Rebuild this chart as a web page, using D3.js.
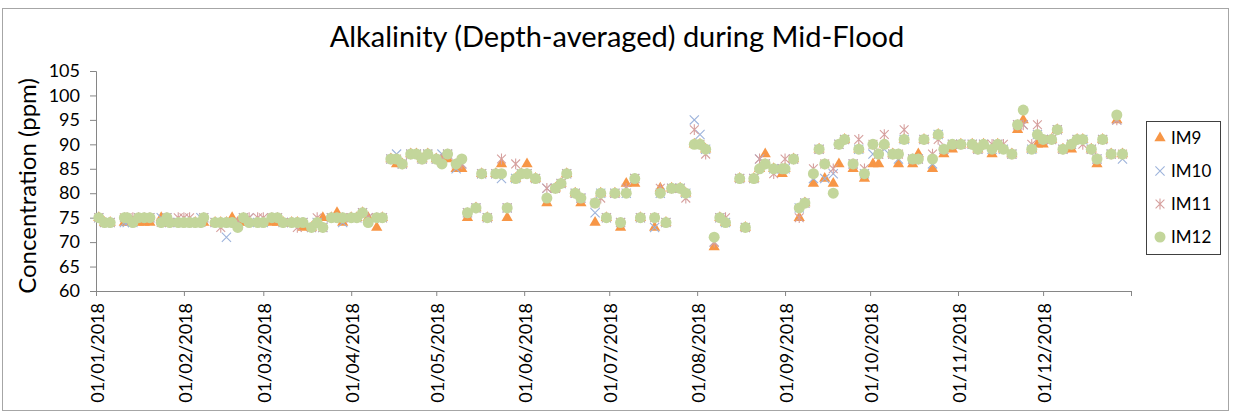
<!DOCTYPE html>
<html>
<head>
<meta charset="utf-8">
<script src="https://cdn.jsdelivr.net/npm/d3@7"></script>
<style>
  html, body { margin: 0; padding: 0; background: #fff; }
  svg { display: block; font-family: Lato, "Open Sans", sans-serif; }
</style>
</head>
<body>
<svg id="chart" width="1235" height="413"></svg>
<script>
// Sampling dates (2018)
const dates = [
  "2018-01-02","2018-01-04","2018-01-06","2018-01-11","2018-01-12","2018-01-14","2018-01-16","2018-01-18","2018-01-20","2018-01-24",
  "2018-01-26","2018-01-27","2018-01-30","2018-02-01","2018-02-03","2018-02-05","2018-02-07","2018-02-08","2018-02-12","2018-02-14",
  "2018-02-16","2018-02-18","2018-02-20","2018-02-22","2018-02-24","2018-02-27","2018-03-01","2018-03-04","2018-03-06","2018-03-08",
  "2018-03-11","2018-03-13","2018-03-15","2018-03-18","2018-03-20","2018-03-22","2018-03-25","2018-03-27","2018-03-29","2018-04-01",
  "2018-04-03","2018-04-05","2018-04-07","2018-04-10","2018-04-12","2018-04-15","2018-04-17","2018-04-19","2018-04-22","2018-04-24",
  "2018-04-26","2018-04-28","2018-05-01","2018-05-03","2018-05-05","2018-05-08","2018-05-10","2018-05-12","2018-05-15","2018-05-17",
  "2018-05-19","2018-05-22","2018-05-24","2018-05-26","2018-05-29","2018-05-31","2018-06-02","2018-06-05","2018-06-09","2018-06-12",
  "2018-06-14","2018-06-16","2018-06-19","2018-06-21","2018-06-26","2018-06-28","2018-06-30","2018-07-03","2018-07-05","2018-07-07",
  "2018-07-10","2018-07-12","2018-07-17","2018-07-19","2018-07-21","2018-07-23","2018-07-26","2018-07-28","2018-07-31","2018-08-02",
  "2018-08-04","2018-08-07","2018-08-09","2018-08-11","2018-08-16","2018-08-18","2018-08-21","2018-08-23","2018-08-25","2018-08-28",
  "2018-08-31","2018-09-01","2018-09-04","2018-09-06","2018-09-08","2018-09-11","2018-09-13","2018-09-15","2018-09-18","2018-09-20",
  "2018-09-22","2018-09-25","2018-09-27","2018-09-29","2018-10-02","2018-10-04","2018-10-06","2018-10-09","2018-10-11","2018-10-13",
  "2018-10-16","2018-10-18","2018-10-20","2018-10-23","2018-10-25","2018-10-27","2018-10-30","2018-11-02","2018-11-06","2018-11-08",
  "2018-11-10","2018-11-13","2018-11-15","2018-11-17","2018-11-20","2018-11-22","2018-11-24","2018-11-27","2018-11-29","2018-12-01",
  "2018-12-04","2018-12-06","2018-12-08","2018-12-11","2018-12-13","2018-12-15","2018-12-18","2018-12-20","2018-12-22","2018-12-25",
  "2018-12-27","2018-12-29"
];

// Alkalinity, depth-averaged (ppm)
const im9 = [
  75,74,74,74,74,74,74,74,74,75, 74,74,74,74,74,74,74,74,74,74,
  74,75,74,74,74,74,74,74,74,74, 74,74,73,73,74,75,75,76,74,75,
  75,76,75,73,75,87,86,86,88,88, 87,88,87,87,87,85,85,75,77,84,
  75,84,86,75,83,84,86,83,78,81, 82,84,80,78,74,80,75,80,73,82,
  82,75,73,81,74,81,81,80,90,90, 89,69,75,74,83,73,83,85,88,85,
  84,85,87,75,78,82,89,83,82,86, 91,85,89,83,86,86,90,88,86,91,
  86,88,91,85,92,88,89,90,90,89, 90,88,90,89,88,93,95,89,90,90,
  91,93,89,89,91,91,89,86,91,88, 95,88
];
const im10 = [
  75,74,74,74,74,74,75,75,75,75, 75,74,74,74,74,74,75,75,74,74,
  71,74,74,75,75,74,74,75,75,74, 74,74,74,73,74,73,75,75,74,75,
  75,76,75,75,75,87,88,86,88,88, 87,88,87,88,88,85,86,76,77,84,
  75,84,83,77,83,84,84,83,81,81, 82,84,80,79,76,80,75,80,74,80,
  83,75,73,80,74,81,81,80,95,92, 89,70,75,74,83,73,83,87,86,85,
  85,85,87,77,78,83,89,83,84,90, 91,86,89,84,88,88,89,88,87,91,
  87,87,91,86,92,89,90,90,90,89, 90,89,90,89,88,94,94,89,92,91,
  91,93,89,90,91,91,89,87,91,88, 95,87
];
const im11 = [
  75,74,74,75,75,75,75,75,75,74, 75,74,75,75,75,74,74,75,74,73,
  74,74,74,75,75,75,75,75,75,74, 74,73,74,73,75,73,75,75,75,75,
  75,76,75,75,75,87,87,86,88,88, 87,88,87,87,88,86,86,76,77,84,
  75,84,87,77,86,84,84,83,81,81, 82,84,80,79,78,79,75,80,74,81,
  83,75,75,81,74,81,81,79,93,90, 88,70,75,75,83,73,83,87,86,84,
  85,87,87,75,78,85,89,86,85,90, 91,86,91,85,90,88,92,88,88,93,
  87,87,91,88,91,89,90,90,90,89, 90,90,90,90,88,94,94,90,94,91,
  91,93,89,90,91,90,89,87,91,88, 95,88
];
const im12 = [
  75,74,74,75,75,74,75,75,75,74, 75,74,74,74,74,74,74,75,74,74,
  74,74,73,75,74,74,74,75,75,74, 74,74,74,73,74,73,75,75,75,75,
  75,76,74,75,75,87,87,86,88,88, 87,88,87,86,88,86,87,76,77,84,
  75,84,84,77,83,84,84,83,79,81, 82,84,80,79,78,80,75,80,74,80,
  83,75,75,80,74,81,81,80,90,90, 89,71,75,74,83,73,83,85,86,85,
  85,85,87,77,78,84,89,86,80,90, 91,86,89,84,90,88,90,88,88,91,
  87,87,91,87,92,89,90,90,90,89, 90,89,90,89,88,94,97,89,92,91,
  91,93,89,90,91,91,89,87,91,88, 96,88
];

const seriesNames = ["IM9", "IM10", "IM11", "IM12"];
const yTicks = [60, 65, 70, 75, 80, 85, 90, 95, 100, 105];
const chartTitle = "Alkalinity (Depth-averaged) during Mid-Flood";
const yTitle = "Concentration (ppm)";

const svg = d3.select("#chart");
const W = 1235, H = 413;
const plot = { left: 96, right: 1131, top: 71, bottom: 291 };
const axisColor = "#868686";

const parse = d3.timeParse("%Y-%m-%d");
const fmt = d3.timeFormat("%d/%m/%Y");

const x = d3.scaleTime()
  .domain([new Date(2018, 0, 1), new Date(2019, 0, 1)])
  .range([plot.left, plot.right]);
const y = d3.scaleLinear()
  .domain([60, 105])
  .range([plot.bottom, plot.top]);

// chart frame
svg.append("rect")
  .attr("x", 2.5).attr("y", 8.5)
  .attr("width", W - 9).attr("height", H - 11)
  .attr("fill", "#fff").attr("stroke", "#A6A6A6").attr("stroke-width", 1);

// title
svg.append("text")
  .attr("x", 617).attr("y", 47)
  .attr("text-anchor", "middle")
  .attr("font-size", 29)
  .attr("fill", "#000")
  .text(chartTitle);

// y axis
const yAxis = svg.append("g")
  .attr("transform", `translate(${plot.left},0)`)
  .call(d3.axisLeft(y).tickValues(yTicks).tickSize(6).tickPadding(10));
yAxis.select(".domain").attr("stroke", axisColor);
yAxis.selectAll(".tick line").attr("stroke", axisColor);
yAxis.selectAll(".tick text")
  .attr("font-size", 18).attr("fill", "#000")
  .attr("font-family", "Lato, sans-serif");

// x axis with month ticks
const monthTicks = d3.timeMonth.range(new Date(2018, 0, 1), new Date(2019, 0, 2));
const xAxis = svg.append("g")
  .attr("transform", `translate(0,${plot.bottom})`)
  .call(d3.axisBottom(x).tickValues(monthTicks).tickSize(5)
    .tickFormat(d => d.getFullYear() === 2018 ? fmt(d) : ""));
xAxis.select(".domain").attr("stroke", axisColor);
xAxis.selectAll(".tick line").attr("stroke", axisColor);
xAxis.selectAll(".tick text")
  .attr("font-size", 18).attr("fill", "#000")
  .attr("font-family", "Lato, sans-serif")
  .attr("transform", "rotate(-90)")
  .attr("text-anchor", "end")
  .attr("x", -12).attr("y", 0).attr("dy", "0.4em");

// y axis title
svg.append("text")
  .attr("transform", `translate(36,${(77 + 295) / 2}) rotate(-90)`)
  .attr("text-anchor", "middle")
  .attr("font-size", 24)
  .attr("fill", "#000")
  .text(yTitle);

// markers
const colors = { IM9: "#F79646", IM10: "#9DB3DB", IM11: "#D6A09E", IM12: "#C3D69B" };

function drawMarker(g, name, cx, cy) {
  if (name === "IM9") {
    g.append("path")
      .attr("d", d3.symbol(d3.symbolTriangle, 55)())
      .attr("transform", `translate(${cx},${cy})`)
      .attr("fill", colors.IM9);
  } else if (name === "IM10") {
    const r = 4.6;
    g.append("path")
      .attr("d", `M${cx - r},${cy - r}L${cx + r},${cy + r}M${cx - r},${cy + r}L${cx + r},${cy - r}`)
      .attr("stroke", colors.IM10).attr("stroke-width", 1.1).attr("fill", "none");
  } else if (name === "IM11") {
    const r = 4.4;
    g.append("path")
      .attr("d", `M${cx - r},${cy - r}L${cx + r},${cy + r}M${cx - r},${cy + r}L${cx + r},${cy - r}M${cx},${cy - r - 1}L${cx},${cy + r + 1}`)
      .attr("stroke", colors.IM11).attr("stroke-width", 1.1).attr("fill", "none");
  } else {
    g.append("circle")
      .attr("cx", cx).attr("cy", cy).attr("r", 5.5)
      .attr("fill", colors.IM12);
  }
}

const seriesValues = { IM9: im9, IM10: im10, IM11: im11, IM12: im12 };
const marks = svg.append("g");
seriesNames.forEach(name => {
  const g = marks.append("g").attr("class", "series-" + name);
  seriesValues[name].forEach((v, i) => {
    if (v == null) return;
    drawMarker(g, name, x(parse(dates[i])), y(v));
  });
});

// legend
const legend = svg.append("g");
legend.append("rect")
  .attr("x", 1146.5).attr("y", 121.5)
  .attr("width", 74).attr("height", 133)
  .attr("fill", "#fff").attr("stroke", "#404040").attr("stroke-width", 1);
seriesNames.forEach((name, i) => {
  const cy = 138 + i * 33;
  const g = legend.append("g");
  drawMarker(g, name, 1160, cy);
  g.append("text")
    .attr("x", 1171).attr("y", cy).attr("dy", "0.36em")
    .attr("font-size", 17).attr("fill", "#000")
    .text(name);
});
</script>
</body>
</html>
